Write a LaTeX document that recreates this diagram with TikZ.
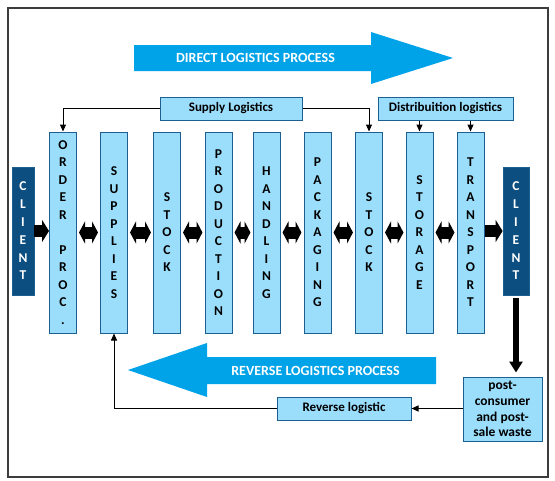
\documentclass[tikz,border=0pt]{standalone}
\usepackage{fontspec}
\setmainfont{Carlito}
\usetikzlibrary{arrows.meta}
\definecolor{boxfill}{RGB}{155,222,252}
\definecolor{boxline}{RGB}{30,95,145}
\definecolor{bigarrow}{RGB}{0,162,232}
\definecolor{clientblue}{RGB}{12,78,128}
\definecolor{framegray}{RGB}{60,60,60}
\tikzset{
  colbox/.style={draw=boxline, fill=boxfill, line width=1pt, minimum width=27pt, minimum height=201pt,
    inner sep=0pt, align=center, font=\fontsize{13.5}{17.5}\selectfont\bfseries},
  clientbox/.style={draw=boxline, fill=clientblue, line width=0.8pt, minimum height=128pt,
    inner sep=0pt, align=center, text=white, font=\fontsize{13.5}{17.8}\selectfont\bfseries},
  labelbox/.style={draw=boxline, fill=boxfill, line width=1pt, minimum height=23pt,
    inner sep=0pt, align=center, font=\fontsize{13}{15.7}\selectfont\bfseries},
  bigtext/.style={text=white, font=\fontsize{14}{16}\selectfont\bfseries},
  thin/.style={draw=black, line width=1pt, -{Triangle[length=7pt,width=6pt]}},
  dbl/.style={draw=black, line width=12pt, {Triangle[length=6pt,width=22pt]}-{Triangle[length=6pt,width=22pt]},
    shorten <=2pt, shorten >=2pt},
  sgl/.style={draw=black, line width=12pt, -{Triangle[length=7pt,width=22pt]}},
  down/.style={draw=black, line width=6pt, -{Triangle[length=11pt,width=13pt]}, shorten <=3pt, shorten >=4pt},
}
\begin{document}
\begin{tikzpicture}[x=1pt,y=-1pt]
\useasboundingbox (0,0) rectangle (555,480);
\draw[framegray, line width=1.2pt] (8,8) rectangle (548,477);

% big arrows
\fill[bigarrow] (134,45) -- (371,45) -- (371,32) -- (453,58) -- (371,84) -- (371,71) -- (134,71) -- cycle;
\node[bigtext] (direct) at (255.5,58) {DIRECT LOGISTICS PROCESS};
\fill[bigarrow] (436,357) -- (207,357) -- (207,343) -- (128,370) -- (207,397) -- (207,384) -- (436,384) -- cycle;
\node[bigtext] (reverse) at (315.5,370.5) {REVERSE LOGISTICS PROCESS};

% columns
\node[colbox] (c1) at (63,232.5) {O\\R\\D\\E\\R\\\mbox{}\\P\\R\\O\\C\\.};
\node[colbox] (c2) at (114,232.5) {S\\U\\P\\P\\L\\I\\E\\S};
\node[colbox] (c3) at (167,232.5) {S\\T\\O\\C\\K};
\node[colbox] (c4) at (218.5,232.5) {P\\R\\O\\D\\U\\C\\T\\I\\O\\N};
\node[colbox] (c5) at (266.5,232.5) {H\\A\\N\\D\\L\\I\\N\\G};
\node[colbox] (c6) at (317.5,232.5) {P\\A\\C\\K\\A\\G\\I\\N\\G};
\node[colbox] (c7) at (369,232.5) {S\\T\\O\\C\\K};
\node[colbox] (c8) at (419.5,232.5) {S\\T\\O\\R\\A\\G\\E};
\node[colbox] (c9) at (470.5,232.5) {T\\R\\A\\N\\S\\P\\O\\R\\T};

% clients
\node[clientbox, minimum width=22pt] (cl) at (23,231) {C\\L\\I\\E\\N\\T};
\node[clientbox, minimum width=26pt] (cr) at (516,231) {C\\L\\I\\E\\N\\T};

% label boxes
\node[labelbox, minimum width=142pt] (sup) at (231,108.5) {Supply Logistics};
\node[labelbox, minimum width=135pt] (dist) at (445.5,108.5) {Distribuition logistics};
\node[labelbox, minimum width=134pt] (rev) at (344,408.5) {Reverse logistic};
\node[labelbox, minimum width=79pt, minimum height=64pt, font=\fontsize{13.5}{15.7}\selectfont\bfseries] (post) at (502.5,409) {post-\\consumer\\and post-\\sale waste};

% connectors
\draw[thin] (sup.west) -| (c1.north);
\draw[thin] (sup.east) -| (c7.north);
\draw[thin] (dist.south -| c8.north) -- (c8.north);
\draw[thin] (dist.south -| c9.north) -- (c9.north);
\draw[thin] (post.west |- rev.east) -- (rev.east);
\draw[thin] (rev.west) -| (c2.south);

\draw[sgl] (cl.east) -- (cl.east -| c1.west);
\draw[dbl] (c1.east) -- (c2.west);
\draw[dbl] (c2.east) -- (c3.west);
\draw[dbl] (c3.east) -- (c4.west);
\draw[dbl] (c4.east) -- (c5.west);
\draw[dbl] (c5.east) -- (c6.west);
\draw[dbl] (c6.east) -- (c7.west);
\draw[dbl] (c7.east) -- (c8.west);
\draw[dbl] (c8.east) -- (c9.west);
\draw[sgl] (c9.east) ++(0,-1.5) coordinate (t9) (t9) -- (t9 -| cr.west);
\draw[down] (cr.south) -- (cr.south |- post.north);
\end{tikzpicture}
\end{document}
